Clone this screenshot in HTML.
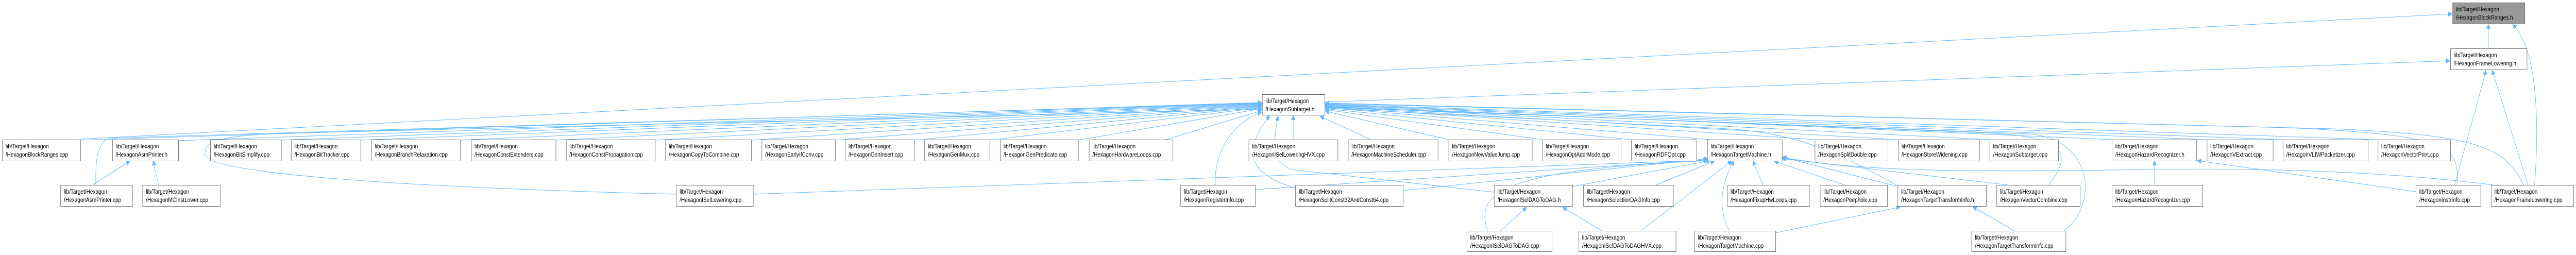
<!DOCTYPE html>
<html><head><meta charset="utf-8"><style>
html,body{margin:0;padding:0;background:#fff;width:100vw;height:100vh;overflow:hidden;}
svg{display:block;position:absolute;left:0;top:0;width:100vw;height:100vh;}
text{font-family:"Liberation Sans",Arial,sans-serif;font-size:12px;fill:#000;}
.b{fill:#fff;stroke:#666;stroke-width:1;}
.e{fill:none;stroke:#63b8ff;stroke-width:1;}
</style></head><body>
<svg viewBox="0 0 5966 495" preserveAspectRatio="none" xmlns="http://www.w3.org/2000/svg">
<defs><marker id="a" viewBox="0 0 10 10" refX="9" refY="5" markerWidth="9" markerHeight="9" orient="auto" markerUnits="userSpaceOnUse"><path d="M0,0 L10,5 L0,10 z" fill="#63b8ff" stroke="#63b8ff"/></marker></defs>
<g class="e" marker-end="url(#a)">
<path d="M186,270 L5678,27"/>
<path d="M3068,198 L5673,118"/>
<path d="M5763,94 L5763,48"/>
<path d="M5870,359 C5880,250 5880,100 5820,48"/>
<path d="M5685,359 C5720,250 5745,180 5757,137"/>
<path d="M5855,359 L5772,137"/>
<path d="M186,272 L2921,199"/>
<path d="M413,273 L2921,200"/>
<path d="M651,272 L2921,201"/>
<path d="M835,272 L2921,202"/>
<path d="M1066,272 L2921,203"/>
<path d="M1287,272 L2921,204"/>
<path d="M1517,272 L2921,205"/>
<path d="M1740,272 L2921,206"/>
<path d="M1934,272 L2921,207"/>
<path d="M2117,272 L2921,208"/>
<path d="M2292,272 L2921,209"/>
<path d="M2497,272 L2921,211"/>
<path d="M2700,271 L2921,215"/>
<path d="M2995,271 L2995,225"/>
<path d="M3175,271 L3058,226"/>
<path d="M3355,271 L3070,216"/>
<path d="M3572,271 L3070,213"/>
<path d="M3778,271 L3070,211"/>
<path d="M3960,271 L3070,209"/>
<path d="M4203,271 L3070,208"/>
<path d="M4396,271 L3070,207"/>
<path d="M4608,271 L3070,206"/>
<path d="M4891,271 L3070,205"/>
<path d="M5111,271 L3070,204"/>
<path d="M5287,271 L3070,203"/>
<path d="M5507,271 L3070,202"/>
<path d="M5690,359 C5700,280 5660,262 5300,248 L3070,201"/>
<path d="M5845,359 C5800,290 5760,262 5400,250 L3070,200"/>
<path d="M4780,448 C4860,400 4850,270 4700,260 L3070,208"/>
<path d="M4745,359 C4800,300 4790,265 4600,258 L3070,207"/>
<path d="M4395,360 C4300,320 4200,260 4000,250 L3070,210"/>
<path d="M222,359 C220,300 230,268 260,268 L2921,200"/>
<path d="M1566,377 C1000,365 480,340 475,300 C470,270 520,262 700,258 L2921,212"/>
<path d="M1744,377 L3953,311"/>
<path d="M2815,359 C2810,300 2850,240 2921,218"/>
<path d="M2907,368 L3953,310"/>
<path d="M3000,365 C2900,340 2870,300 2940,225"/>
<path d="M3249,370 L3955,308"/>
<path d="M3460,373 L3000,330 C2950,322 2945,290 2960,226"/>
<path d="M3642,362 L3960,312"/>
<path d="M3835,359 L3970,313"/>
<path d="M3475,448 L3535,403"/>
<path d="M3445,448 C3420,380 3450,330 3955,312"/>
<path d="M3710,448 L3620,403"/>
<path d="M3800,448 L4010,313"/>
<path d="M4005,448 C3975,400 3990,350 4015,313"/>
<path d="M4112,452 L4400,402"/>
<path d="M4083,359 L4060,313"/>
<path d="M4272,359 L4110,313"/>
<path d="M4395,362 L4128,305"/>
<path d="M4650,359 L4128,308"/>
<path d="M4665,448 L4570,402"/>
<path d="M4990,359 L4990,313"/>
<path d="M5595,372 L5090,312"/>
<path d="M5775,359 C5500,330 5200,325 4900,330 C4500,335 4300,330 4130,306"/>
<path d="M215,359 L300,313"/>
<path d="M367,359 L355,313"/>
</g>
<g>
<rect class="b" x="5680.5" y="5.5" width="167" height="41" style="fill:#999"/>
<text x="5688" y="22">lib/Target/Hexagon</text><text x="5688" y="38">/HexagonBlockRanges.h</text>
</g>
<g>
<rect class="b" x="5675.5" y="94.5" width="177" height="41"/><text x="5683" y="111">lib/Target/Hexagon</text><text x="5683" y="127">/HexagonFrameLowering.h</text>
<rect class="b" x="2923.5" y="183.5" width="145" height="40"/><text x="2931" y="200">lib/Target/Hexagon</text><text x="2931" y="216">/HexagonSubtarget.h</text>

<rect class="b" x="5.5" y="271.5" width="181" height="41"/><text x="13" y="288">lib/Target/Hexagon</text><text x="13" y="304">/HexagonBlockRanges.cpp</text>
<rect class="b" x="260.5" y="271.5" width="153" height="41"/><text x="268" y="288">lib/Target/Hexagon</text><text x="268" y="304">/HexagonAsmPrinter.h</text>
<rect class="b" x="487.5" y="271.5" width="164" height="41"/><text x="495" y="288">lib/Target/Hexagon</text><text x="495" y="304">/HexagonBitSimplify.cpp</text>
<rect class="b" x="674.5" y="271.5" width="161" height="41"/><text x="682" y="288">lib/Target/Hexagon</text><text x="682" y="304">/HexagonBitTracker.cpp</text>
<rect class="b" x="860.5" y="271.5" width="206" height="41"/><text x="868" y="288">lib/Target/Hexagon</text><text x="868" y="304">/HexagonBranchRelaxation.cpp</text>
<rect class="b" x="1091.5" y="271.5" width="196" height="41"/><text x="1099" y="288">lib/Target/Hexagon</text><text x="1099" y="304">/HexagonConstExtenders.cpp</text>
<rect class="b" x="1311.5" y="271.5" width="206" height="41"/><text x="1319" y="288">lib/Target/Hexagon</text><text x="1319" y="304">/HexagonConstPropagation.cpp</text>
<rect class="b" x="1541.5" y="271.5" width="199" height="41"/><text x="1549" y="288">lib/Target/Hexagon</text><text x="1549" y="304">/HexagonCopyToCombine.cpp</text>
<rect class="b" x="1764.5" y="271.5" width="170" height="41"/><text x="1772" y="288">lib/Target/Hexagon</text><text x="1772" y="304">/HexagonEarlyIfConv.cpp</text>
<rect class="b" x="1957.5" y="271.5" width="160" height="41"/><text x="1965" y="288">lib/Target/Hexagon</text><text x="1965" y="304">/HexagonGenInsert.cpp</text>
<rect class="b" x="2141.5" y="271.5" width="151" height="41"/><text x="2149" y="288">lib/Target/Hexagon</text><text x="2149" y="304">/HexagonGenMux.cpp</text>
<rect class="b" x="2316.5" y="271.5" width="181" height="41"/><text x="2324" y="288">lib/Target/Hexagon</text><text x="2324" y="304">/HexagonGenPredicate.cpp</text>
<rect class="b" x="2522.5" y="271.5" width="194" height="41"/><text x="2530" y="288">lib/Target/Hexagon</text><text x="2530" y="304">/HexagonHardwareLoops.cpp</text>
<rect class="b" x="2892.5" y="271.5" width="206" height="41"/><text x="2900" y="288">lib/Target/Hexagon</text><text x="2900" y="304">/HexagonISelLoweringHVX.cpp</text>
<rect class="b" x="3122.5" y="271.5" width="208" height="41"/><text x="3130" y="288">lib/Target/Hexagon</text><text x="3130" y="304">/HexagonMachineScheduler.cpp</text>
<rect class="b" x="3355.5" y="271.5" width="193" height="41"/><text x="3363" y="288">lib/Target/Hexagon</text><text x="3363" y="304">/HexagonNewValueJump.cpp</text>
<rect class="b" x="3572.5" y="271.5" width="182" height="41"/><text x="3580" y="288">lib/Target/Hexagon</text><text x="3580" y="304">/HexagonOptAddrMode.cpp</text>
<rect class="b" x="3778.5" y="271.5" width="151" height="41"/><text x="3786" y="288">lib/Target/Hexagon</text><text x="3786" y="304">/HexagonRDFOpt.cpp</text>
<rect class="b" x="3954.5" y="271.5" width="173" height="41"/><text x="3962" y="288">lib/Target/Hexagon</text><text x="3962" y="304">/HexagonTargetMachine.h</text>
<rect class="b" x="4203.5" y="271.5" width="169" height="41"/><text x="4211" y="288">lib/Target/Hexagon</text><text x="4211" y="304">/HexagonSplitDouble.cpp</text>
<rect class="b" x="4396.5" y="271.5" width="188" height="41"/><text x="4404" y="288">lib/Target/Hexagon</text><text x="4404" y="304">/HexagonStoreWidening.cpp</text>
<rect class="b" x="4608.5" y="271.5" width="159" height="41"/><text x="4616" y="288">lib/Target/Hexagon</text><text x="4616" y="304">/HexagonSubtarget.cpp</text>
<rect class="b" x="4891.5" y="271.5" width="196" height="41"/><text x="4899" y="288">lib/Target/Hexagon</text><text x="4899" y="304">/HexagonHazardRecognizer.h</text>
<rect class="b" x="5111.5" y="271.5" width="153" height="41"/><text x="5119" y="288">lib/Target/Hexagon</text><text x="5119" y="304">/HexagonVExtract.cpp</text>
<rect class="b" x="5287.5" y="271.5" width="197" height="41"/><text x="5295" y="288">lib/Target/Hexagon</text><text x="5295" y="304">/HexagonVLIWPacketizer.cpp</text>
<rect class="b" x="5507.5" y="271.5" width="168" height="41"/><text x="5515" y="288">lib/Target/Hexagon</text><text x="5515" y="304">/HexagonVectorPrint.cpp</text>

<rect class="b" x="140.5" y="359.5" width="167" height="41"/><text x="148" y="376">lib/Target/Hexagon</text><text x="148" y="392">/HexagonAsmPrinter.cpp</text>
<rect class="b" x="330.5" y="359.5" width="180" height="41"/><text x="338" y="376">lib/Target/Hexagon</text><text x="338" y="392">/HexagonMCInstLower.cpp</text>
<rect class="b" x="1566.5" y="359.5" width="178" height="41"/><text x="1574" y="376">lib/Target/Hexagon</text><text x="1574" y="392">/HexagonISelLowering.cpp</text>
<rect class="b" x="2734.5" y="359.5" width="173" height="41"/><text x="2742" y="376">lib/Target/Hexagon</text><text x="2742" y="392">/HexagonRegisterInfo.cpp</text>
<rect class="b" x="3000.5" y="359.5" width="249" height="41"/><text x="3008" y="376">lib/Target/Hexagon</text><text x="3008" y="392">/HexagonSplitConst32AndConst64.cpp</text>
<rect class="b" x="3460.5" y="359.5" width="182" height="41"/><text x="3468" y="376">lib/Target/Hexagon</text><text x="3468" y="392">/HexagonISelDAGToDAG.h</text>
<rect class="b" x="3667.5" y="359.5" width="208" height="41"/><text x="3675" y="376">lib/Target/Hexagon</text><text x="3675" y="392">/HexagonSelectionDAGInfo.cpp</text>
<rect class="b" x="4000.5" y="359.5" width="190" height="41"/><text x="4008" y="376">lib/Target/Hexagon</text><text x="4008" y="392">/HexagonFixupHwLoops.cpp</text>
<rect class="b" x="4215.5" y="359.5" width="156" height="41"/><text x="4223" y="376">lib/Target/Hexagon</text><text x="4223" y="392">/HexagonPeephole.cpp</text>
<rect class="b" x="4395.5" y="359.5" width="205" height="41"/><text x="4403" y="376">lib/Target/Hexagon</text><text x="4403" y="392">/HexagonTargetTransformInfo.h</text>
<rect class="b" x="4624.5" y="359.5" width="193" height="41"/><text x="4632" y="376">lib/Target/Hexagon</text><text x="4632" y="392">/HexagonVectorCombine.cpp</text>
<rect class="b" x="4891.5" y="359.5" width="210" height="41"/><text x="4899" y="376">lib/Target/Hexagon</text><text x="4899" y="392">/HexagonHazardRecognizer.cpp</text>
<rect class="b" x="5595.5" y="359.5" width="150" height="41"/><text x="5603" y="376">lib/Target/Hexagon</text><text x="5603" y="392">/HexagonInstrInfo.cpp</text>
<rect class="b" x="5769.5" y="359.5" width="191" height="41"/><text x="5777" y="376">lib/Target/Hexagon</text><text x="5777" y="392">/HexagonFrameLowering.cpp</text>

<rect class="b" x="3397.5" y="448.5" width="197" height="40"/><text x="3405" y="465">lib/Target/Hexagon</text><text x="3405" y="481">/HexagonISelDAGToDAG.cpp</text>
<rect class="b" x="3656.5" y="448.5" width="225" height="40"/><text x="3664" y="465">lib/Target/Hexagon</text><text x="3664" y="481">/HexagonISelDAGToDAGHVX.cpp</text>
<rect class="b" x="3924.5" y="448.5" width="188" height="40"/><text x="3932" y="465">lib/Target/Hexagon</text><text x="3932" y="481">/HexagonTargetMachine.cpp</text>
<rect class="b" x="4566.5" y="448.5" width="218" height="40"/><text x="4574" y="465">lib/Target/Hexagon</text><text x="4574" y="481">/HexagonTargetTransformInfo.cpp</text>
</g>
</svg>
</body></html>
